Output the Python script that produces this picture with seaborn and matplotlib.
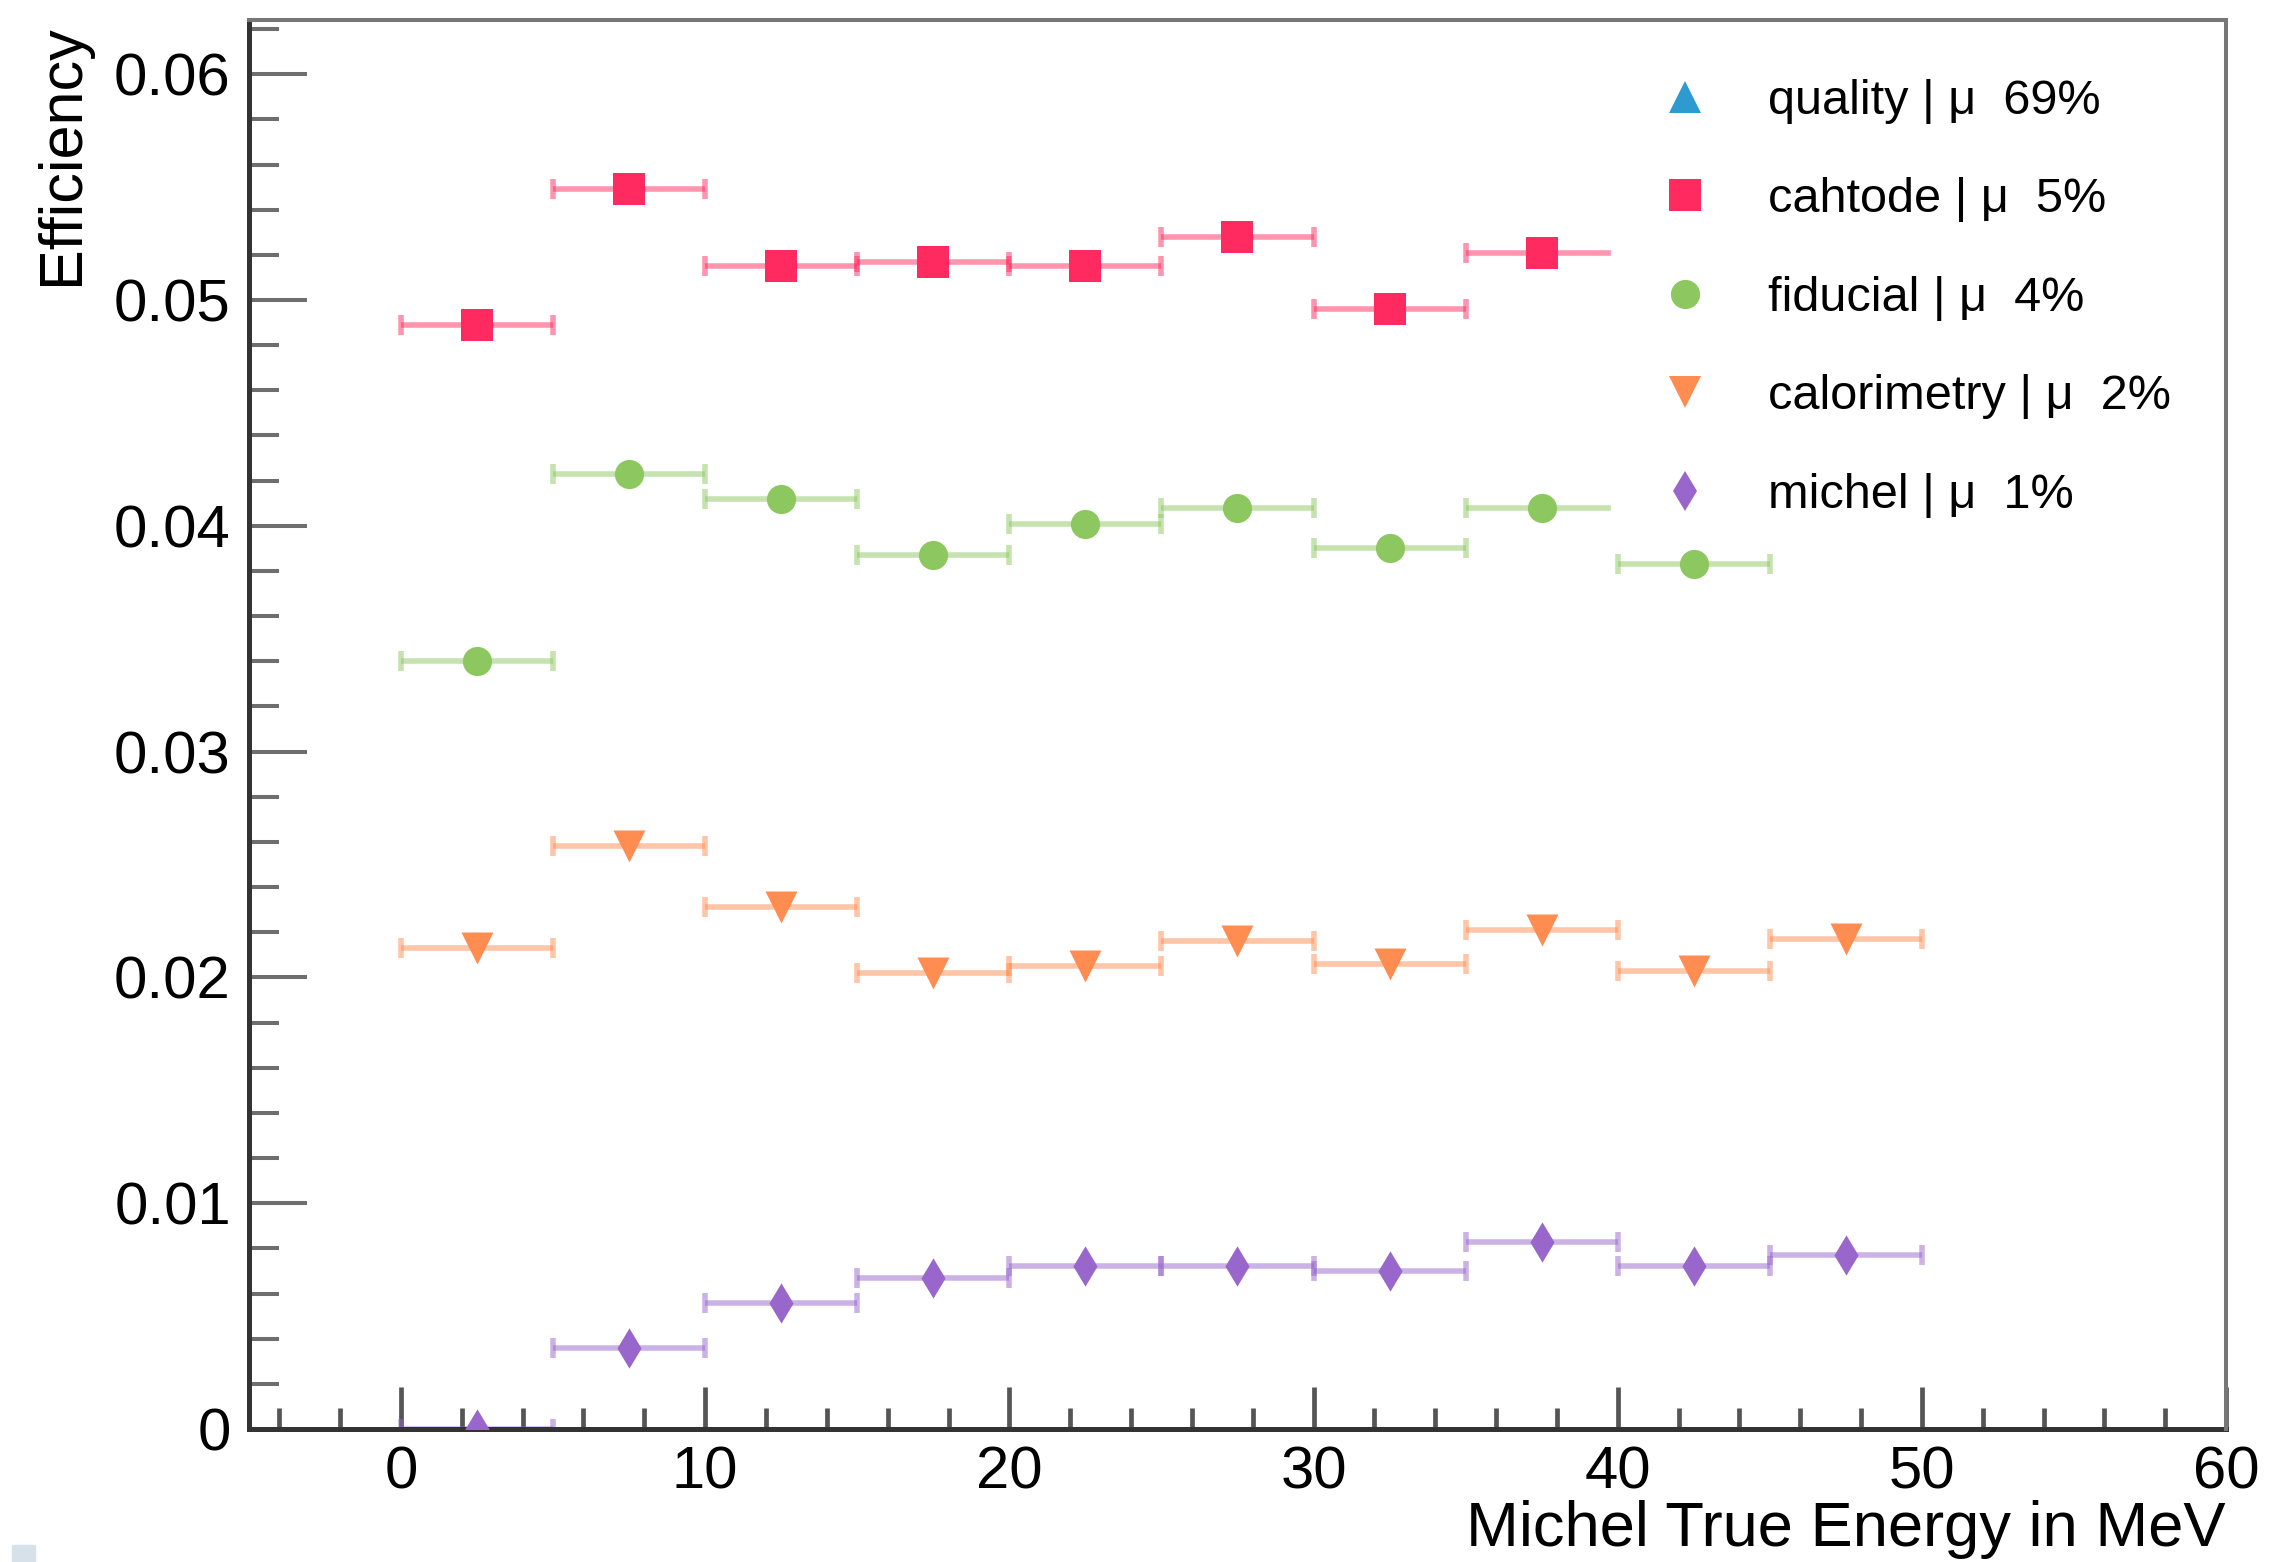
import numpy as np
import pandas as pd
import seaborn as sns
import matplotlib.pyplot as plt
from matplotlib.lines import Line2D
from matplotlib.patches import Rectangle
from matplotlib.ticker import MultipleLocator

sns.set_theme(style="white")
plt.rcParams['font.family'] = ['Liberation Sans', 'DejaVu Sans']
plt.rcParams['text.color'] = 'black'
plt.rcParams['axes.labelcolor'] = 'black'
plt.rcParams['xtick.labelcolor'] = 'black'
plt.rcParams['ytick.labelcolor'] = 'black'

# bin centres (5 MeV wide bins)
energy = [2.5, 7.5, 12.5, 17.5, 22.5, 27.5, 32.5, 37.5, 42.5, 47.5]
bin_half_width = 2.5

# efficiencies (points hidden behind the legend are left out)
cathode_eff = [0.0489, 0.0549, 0.0515, 0.0517, 0.0515, 0.0528, 0.0496, 0.0521]
fiducial_eff = [0.0340, 0.0423, 0.0412, 0.0387, 0.0401, 0.0408, 0.0390, 0.0408, 0.0383]
calorimetry_eff = [0.0213, 0.0258, 0.0231, 0.0202, 0.0205, 0.0216, 0.0206, 0.0221, 0.0203, 0.0217]
michel_eff = [0.0, 0.0036, 0.0056, 0.0067, 0.0072, 0.0072, 0.0070, 0.0083, 0.0072, 0.0077]

cuts = ['quality', 'cahtode', 'fiducial', 'calorimetry', 'michel']
mean_eff = ['69%', '5%', '4%', '2%', '1%']
colors = {'quality': '#2e9bd0', 'cahtode': '#ff2a5f', 'fiducial': '#8cc760',
          'calorimetry': '#ff8c50', 'michel': '#9966cc'}
markers = {'quality': '^', 'cahtode': 's', 'fiducial': 'o', 'calorimetry': 'v', 'michel': 'd'}
sizes = {'quality': 530, 'cahtode': 500, 'fiducial': 441, 'calorimetry': 530, 'michel': 420}

series = {'cahtode': cathode_eff, 'fiducial': fiducial_eff,
          'calorimetry': calorimetry_eff, 'michel': michel_eff}

rows = []
for cut, vals in series.items():
    for e, v in zip(energy, vals):
        rows.append({'energy': e, 'eff': v, 'cut': cut})
df = pd.DataFrame(rows)

fig = plt.figure(figsize=(22.71, 15.62), dpi=100)
ax = fig.add_axes([0.1096, 0.0851, 0.8706, 0.9021])

# horizontal error bars (bin widths)
for cut, vals in series.items():
    ax.errorbar(energy[:len(vals)], vals, xerr=bin_half_width, fmt='none',
                ecolor=colors[cut], alpha=0.5, elinewidth=4, capsize=7.5,
                capthick=4, zorder=2)

for cut in series:
    sub = df[df['cut'] == cut]
    sns.scatterplot(data=sub, x='energy', y='eff', ax=ax, color=colors[cut],
                    marker=markers[cut], s=sizes[cut], linewidth=0,
                    legend=False, zorder=3)

ax.set_xlim(-5, 60)
ax.set_ylim(0, 0.0624)

ax.xaxis.set_major_locator(MultipleLocator(10))
ax.xaxis.set_minor_locator(MultipleLocator(2))
ax.yaxis.set_major_locator(MultipleLocator(0.01))
ax.yaxis.set_minor_locator(MultipleLocator(0.002))
ax.yaxis.set_major_formatter(plt.FuncFormatter(lambda v, p: '0' if v == 0 else f'{v:g}'))

ax.tick_params(axis='y', which='both', direction='in', left=True, right=False,
               color='#6e6e6e', labelsize=43, pad=13)
ax.tick_params(axis='y', which='major', length=42, width=2.9)
ax.tick_params(axis='y', which='minor', length=21.6, width=2.9)
ax.tick_params(axis='x', which='both', direction='in', bottom=True, top=False,
               color='#555555', labelsize=43, pad=12)
ax.tick_params(axis='x', which='major', length=30, width=3.4)
ax.tick_params(axis='x', which='minor', length=15, width=3.4)

for side in ['left', 'bottom']:
    ax.spines[side].set_color('#333333')
    ax.spines[side].set_linewidth(3.6)
for side in ['top', 'right']:
    ax.spines[side].set_color('#777777')
    ax.spines[side].set_linewidth(2.9)
    ax.spines[side].set_zorder(20)

ax.set_xlabel('Michel True Energy in MeV', fontsize=45.5, loc='right')
ax.xaxis.set_label_coords(1.0, -0.050)
ax.set_ylabel('Efficiency', fontsize=44, loc='top')
ax.yaxis.set_label_coords(-0.080, 0.997)

handles = [Line2D([], [], linestyle='none', marker=markers[c], color=colors[c],
                  markersize=np.sqrt(sizes[c]), markeredgewidth=0) for c in cuts]
labels = [f'{c} | μ  {m}' for c, m in zip(cuts, mean_eff)]
leg = ax.legend(handles, labels, loc='upper left', bbox_to_anchor=(0.689, 0.972),
                borderaxespad=0, borderpad=0.4, fontsize=35, handlelength=2.22,
                handletextpad=0.6, labelspacing=1.1, frameon=True,
                facecolor='white', edgecolor='white', framealpha=1, fancybox=False)
leg.set_zorder(10)
for t in leg.get_texts():
    t.set_color('black')

# small screenshot artefact in the lower left corner
fig.add_artist(Rectangle((12 / 2271, 0), 23 / 2271, 17 / 1562,
                         transform=fig.transFigure, color='#d6e1ea'))

fig.savefig('out.png', dpi=100)
